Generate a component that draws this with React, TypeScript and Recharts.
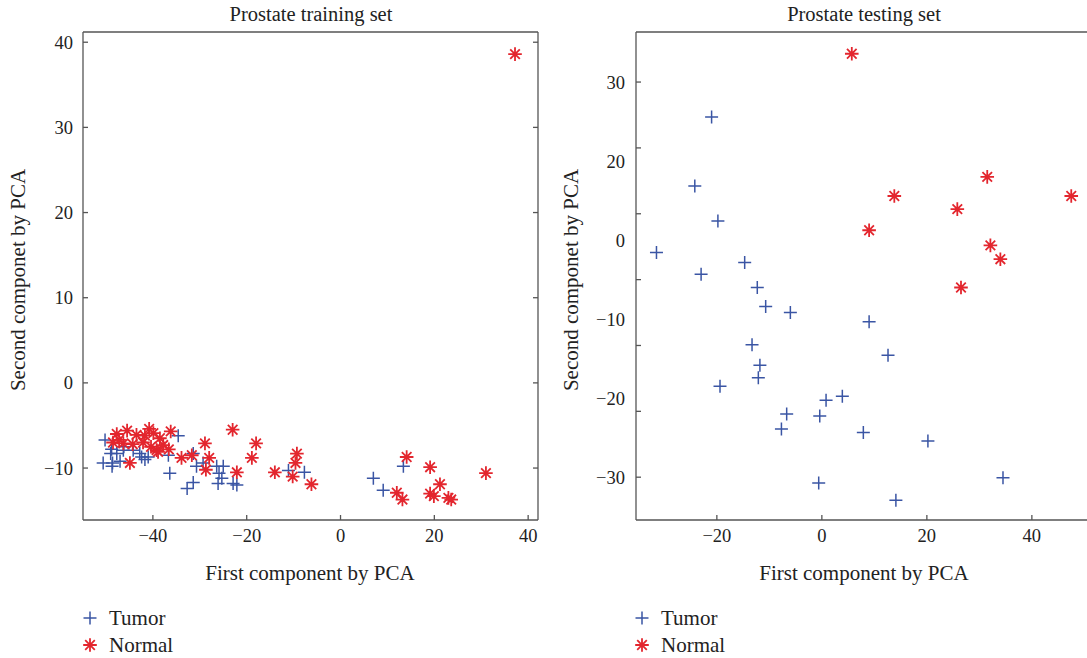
import React from 'react'
import { ScatterChart, Scatter, XAxis, YAxis } from 'recharts'

const BLUE = '#3a55a4'
const RED = '#e3262e'
const FONT = '"Liberation Serif", "DejaVu Serif", serif'

// training set, [first component, second component]
const trainTumor = [
  [-50.2, -6.7], [-48.8, -7.8], [-47.7, -8.3], [-49.0, -8.3], [-46.3, -7.9],
  [-50.6, -9.4], [-48.6, -9.4], [-48.7, -9.8], [-47.0, -9.2], [-44.2, -7.9],
  [-42.8, -8.3], [-42.4, -8.7], [-41.7, -9.0], [-41.0, -8.7], [-34.6, -6.2],
  [-36.7, -8.5], [-36.4, -10.6], [-31.4, -8.3], [-30.7, -9.8], [-29.3, -9.4],
  [-32.7, -12.4], [-31.4, -11.7], [-26.4, -9.8], [-25.0, -9.8], [-25.9, -10.6],
  [-25.3, -11.2], [-26.1, -11.8], [-22.9, -11.8], [-22.1, -12.0], [-11.1, -10.3],
  [-7.7, -10.5], [7.0, -11.2], [9.1, -12.6], [13.4, -9.8], [-46.2, -7.5],
]
const trainNormal = [
  [37.2, 38.6], [-47.7, -6.0], [-45.5, -5.6], [-43.5, -6.1], [-40.8, -5.4],
  [-39.9, -5.9], [-38.5, -6.5], [-36.2, -5.7], [-48.5, -7.0], [-46.3, -7.1],
  [-44.3, -7.2], [-42.1, -7.0], [-40.4, -7.5], [-39.2, -7.9], [-37.8, -7.3],
  [-38.9, -8.1], [-44.9, -9.4], [-33.9, -8.8], [-31.7, -8.5], [-28.9, -7.1],
  [-28.0, -8.8], [-28.7, -10.2], [-23.0, -5.5], [-18.0, -7.1], [-18.9, -8.8],
  [-22.1, -10.5], [-14.0, -10.5], [-9.3, -8.3], [-9.6, -9.4], [-10.2, -11.0],
  [-6.2, -11.9], [14.1, -8.7], [19.1, -9.9], [12.0, -12.9], [13.2, -13.7],
  [21.2, -11.9], [19.1, -13.0], [19.9, -13.3], [23.0, -13.5], [23.6, -13.7],
  [31.0, -10.6], [-47.2, -6.7], [-36.6, -7.8], [-41.7, -6.2],
]

// testing set
const testTumor = [
  [-21.0, 24.7], [-24.2, 14.2], [-19.8, 8.9], [-31.5, 4.1], [-23.0, 0.8],
  [-14.7, 2.6], [-12.3, -1.2], [-10.7, -4.1], [-6.0, -5.0], [-13.3, -9.9],
  [-11.8, -13.0], [-12.1, -14.9], [-19.4, -16.2], [-6.7, -20.4], [-7.7, -22.7],
  [-0.4, -20.7], [0.8, -18.3], [-0.6, -30.9], [9.0, -6.4], [12.6, -11.5],
  [3.9, -17.7], [7.9, -23.2], [20.2, -24.5], [34.5, -30.1], [14.1, -33.5],
]
const testNormal = [
  [5.7, 34.3], [13.8, 12.7], [9.0, 7.5], [31.5, 15.6], [25.8, 10.7],
  [47.5, 12.7], [32.1, 5.2], [34.0, 3.1], [26.5, -1.2],
]

const trainXTicks = [-40, -20, 0, 20, 40]
const trainYTicks = [-10, 0, 10, 20, 30, 40]
const testXTicks = [-20, 0, 20, 40]
const testYTicks = [-30, -20, -10, 0, 10, 20, 30]
// the testing panel prints its y labels at evenly spaced slots
const testYLabels = ['−30', '−20', '−10', '0', '20', '30']
const testYSlots = [0, 1, 2, 3, 4, 5]

const toPts = (a: number[][]) => a.map(([x, y]) => ({ x, y }))
const fmt = (v: number) => (v < 0 ? `−${-v}` : `${v}`)
const none = () => ''

const PlusMark = (p: any) => {
  const { cx, cy } = p
  return <path d={`M${cx - 6.5},${cy}H${cx + 6.5}M${cx},${cy - 6.5}V${cy + 6.5}`} stroke={BLUE} strokeWidth={1.5} fill="none" />
}
const StarMark = (p: any) => {
  const { cx, cy } = p
  const r = 6.8
  const d = 4.8
  return (
    <path
      d={`M${cx - r},${cy}H${cx + r}M${cx},${cy - r}V${cy + r}M${cx - d},${cy - d}L${cx + d},${cy + d}M${cx - d},${cy + d}L${cx + d},${cy - d}`}
      stroke={RED}
      strokeWidth={1.8}
      fill="none"
    />
  )
}

const tickStyle = { fill: '#222', fontSize: 18.5, fontFamily: FONT }
const axisLine = { stroke: '#555', strokeWidth: 1.3 }

const txt = (s: React.CSSProperties): React.CSSProperties => ({
  position: 'absolute', fontFamily: FONT, fontSize: 21, color: '#222', whiteSpace: 'nowrap', lineHeight: '22px', ...s,
})

function Legend({ left }: { left: number }) {
  return (
    <>
      <svg style={{ position: 'absolute', left: left, top: 610 }} width={18} height={44}>
        <PlusMark cx={9} cy={8} />
        <StarMark cx={9} cy={35} />
      </svg>
      <div style={txt({ left: left + 28, top: 607 })}>Tumor</div>
      <div style={txt({ left: left + 28, top: 634 })}>Normal</div>
    </>
  )
}

export default function App() {
  return (
    <div style={{ position: 'absolute', left: 0, top: 0, width: 1087, height: 658, background: '#fff', overflow: 'hidden' }}>
      <div style={{ position: 'absolute', left: 0, top: 0 }}>
        <ScatterChart width={560} height={560} margin={{ top: 31, right: 21, bottom: 0, left: 23 }}>
          <XAxis xAxisId="b" type="number" dataKey="x" domain={[-54.9, 42.1]} ticks={trainXTicks} allowDataOverflow
            tickFormatter={fmt} tick={tickStyle} tickSize={-5} tickMargin={14} axisLine={axisLine} tickLine={axisLine} height={40} />
          <XAxis xAxisId="t" orientation="top" type="number" domain={[-54.9, 42.1]} ticks={trainXTicks} allowDataOverflow
            tickFormatter={none} tickSize={-5} axisLine={axisLine} tickLine={axisLine} height={1} />
          <YAxis yAxisId="l" type="number" dataKey="y" domain={[-16.1, 41.2]} ticks={trainYTicks} allowDataOverflow
            tickFormatter={fmt} tick={tickStyle} tickSize={-5} tickMargin={15} axisLine={axisLine} tickLine={axisLine} width={60} />
          <YAxis yAxisId="r" orientation="right" type="number" domain={[-16.1, 41.2]} ticks={trainYTicks} allowDataOverflow
            tickFormatter={none} tickSize={-5} axisLine={axisLine} tickLine={axisLine} width={1} />
          <Scatter xAxisId="b" yAxisId="l" data={toPts(trainTumor)} shape={PlusMark} isAnimationActive={false} />
          <Scatter xAxisId="b" yAxisId="l" data={toPts(trainNormal)} shape={StarMark} isAnimationActive={false} />
        </ScatterChart>
      </div>
      <div style={{ position: 'absolute', left: 560, top: 0 }}>
        <ScatterChart width={527} height={560} margin={{ top: 31, right: 0, bottom: 0, left: 16 }}>
          <XAxis xAxisId="b" type="number" dataKey="x" domain={[-35.4, 50.5]} ticks={testXTicks} allowDataOverflow
            tickFormatter={fmt} tick={tickStyle} tickSize={-5} tickMargin={14} axisLine={axisLine} tickLine={axisLine} height={40} />
          <XAxis xAxisId="t" orientation="top" type="number" domain={[-35.4, 50.5]} ticks={testXTicks} allowDataOverflow
            tickFormatter={none} tickSize={-5} axisLine={axisLine} tickLine={axisLine} height={1} />
          <YAxis yAxisId="l" type="number" dataKey="y" domain={[-36.5, 37.6]} ticks={testYTicks} allowDataOverflow
            tickFormatter={none} tickSize={-5} axisLine={axisLine} tickLine={axisLine} width={1} />
          <YAxis yAxisId="lab" type="number" domain={[-0.544, 5.633]} ticks={testYSlots} allowDataOverflow
            tickFormatter={(v: number) => testYLabels[v]} tick={tickStyle} tickSize={0} tickMargin={10} axisLine={false} tickLine={false} width={59} />
          <Scatter xAxisId="b" yAxisId="l" data={toPts(testTumor)} shape={PlusMark} isAnimationActive={false} />
          <Scatter xAxisId="b" yAxisId="l" data={toPts(testNormal)} shape={StarMark} isAnimationActive={false} />
        </ScatterChart>
      </div>

      <div style={txt({ left: 311, top: 3, fontSize: 20.5, transform: 'translateX(-50%)' })}>Prostate training set</div>
      <div style={txt({ left: 864, top: 3, fontSize: 20.5, transform: 'translateX(-50%)' })}>Prostate testing set</div>
      <div style={txt({ left: 310, top: 562, transform: 'translateX(-50%)' })}>First component by PCA</div>
      <div style={txt({ left: 864, top: 562, transform: 'translateX(-50%)' })}>First component by PCA</div>
      <div style={txt({ left: 18, top: 280, transform: 'translate(-50%, -50%) rotate(-90deg)' })}>Second componet by PCA</div>
      <div style={txt({ left: 571, top: 280, transform: 'translate(-50%, -50%) rotate(-90deg)' })}>Second componet by PCA</div>

      <Legend left={81} />
      <Legend left={633} />
    </div>
  )
}
